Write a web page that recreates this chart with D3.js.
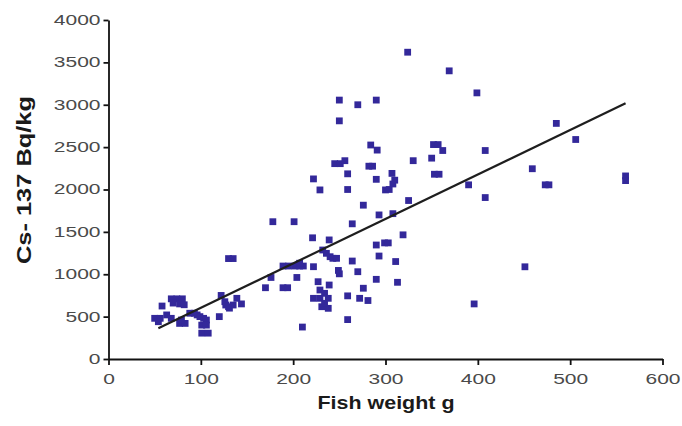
<!DOCTYPE html>
<html lang="en">
<head>
<meta charset="UTF-8">
<title>Cs-137 vs fish weight</title>
<script src="https://d3js.org/d3.v7.min.js"></script>
<style>
    body { margin: 0; background: #fff; }
    .tick text { font-family: "Liberation Sans", Arial, sans-serif; fill: #4a4a4a; }
    .axis-title { font-family: "Liberation Sans", Arial, sans-serif; font-weight: bold; fill: #1a1a1a; }
</style>
</head>
<body>
<script>
// fish weight (g) and Cs-137 (Bq/kg)
const fishWeight = [
    324, 369, 399, 250, 270, 290, 250, 485, 506, 284, 291, 352, 357, 362, 408,
    245, 251, 256, 330, 350, 282, 286, 459, 222, 259, 290, 307, 310, 308, 300,
    304, 353, 358, 560, 560, 229, 259, 390, 473, 477, 408, 325, 276, 178, 201,
    293, 308, 264, 319, 221, 239, 290, 299, 303, 232, 236, 240, 243, 247, 293,
    311, 264, 130, 135, 189, 195, 202, 207, 211, 207, 222, 249, 250, 270, 451,
    176, 204, 290, 313, 227, 239, 170, 189, 194, 276, 229, 234, 222, 229, 238,
    259, 272, 281, 231, 238, 234, 259, 210, 396,
    58, 50, 56, 63, 68, 54, 68, 74, 80, 70, 77, 82, 77, 83, 79,
    88, 93, 96, 99, 103, 106, 101, 106, 101, 108, 120, 122, 127, 131, 135,
    139, 144, 126, 130
];
const cs137 = [
    3620, 3400, 3140, 3055, 3000, 3055, 2810, 2780, 2590, 2525, 2465, 2530, 2530, 2460, 2460,
    2305, 2305, 2340, 2340, 2370, 2275, 2275, 2245, 2125, 2185, 2120, 2190, 2110, 2065, 1995,
    2000, 2180, 2180, 2160, 2105, 1995, 2000, 2055, 2055, 2055, 1905, 1870, 1815, 1620, 1620,
    1700, 1715, 1595, 1465, 1430, 1405, 1345, 1370, 1370, 1286, 1247, 1207, 1188, 1188, 1215,
    1150, 1156, 1185, 1185, 1097, 1097, 1097, 1097, 1097, 1130, 1089, 1045, 1005, 1030, 1088,
    962, 962, 940, 905, 912, 873, 841, 841, 841, 835, 814, 775, 716, 716, 716,
    745, 716, 690, 617, 598, 657, 465, 377, 650,
    625, 480, 480, 520, 480, 440, 710, 710, 710, 660, 650, 640, 420, 420, 460,
    540, 540, 520, 500, 480, 460, 400, 400, 305, 305, 500, 750, 637, 600, 637,
    716, 650, 676, 617
];
// fitted line as drawn in the picture
const trendWeight = [54, 560];
const trendCs = [362, 3017];

const xTicks = [0, 100, 200, 300, 400, 500, 600];
const yTicks = [0, 500, 1000, 1500, 2000, 2500, 3000, 3500, 4000];

const width = 682, height = 426;

const svg = d3.select("body").append("svg")
    .attr("width", width)
    .attr("height", height);

const x = d3.scaleLinear().domain([0, 600]).range([108.5, 662.5]);
const y = d3.scaleLinear().domain([0, 4000]).range([359, 20]);

const points = fishWeight.map((w, i) => ({ w: w, c: cs137[i] }));

// markers
const size = 6.8;
svg.append("g")
    .selectAll("rect")
    .data(points)
    .join("rect")
    .attr("x", d => x(d.w) - size / 2)
    .attr("y", d => y(d.c) - size / 2)
    .attr("width", size)
    .attr("height", size)
    .attr("fill", "#33289a");

// trend line
svg.append("path")
    .datum(trendWeight.map((w, i) => [w, trendCs[i]]))
    .attr("d", d3.line().x(d => x(d[0])).y(d => y(d[1])))
    .attr("stroke", "#1e1e1e")
    .attr("stroke-width", 2.2)
    .attr("fill", "none");

// axes
const fmt = d3.format("d");
const xAxis = svg.append("g")
    .attr("transform", `translate(0,${y(0)})`)
    .call(d3.axisBottom(x).tickValues(xTicks).tickFormat(fmt).tickSize(6).tickSizeOuter(0).tickPadding(9));

const yAxis = svg.append("g")
    .attr("transform", `translate(${x(0)},0)`)
    .call(d3.axisLeft(y).tickValues(yTicks).tickFormat(fmt).tickSize(5).tickSizeOuter(0).tickPadding(6));

[xAxis, yAxis].forEach(a => {
    a.select(".domain").attr("stroke", "#111").attr("stroke-width", 1.8);
    a.selectAll(".tick line").attr("stroke", "#111").attr("stroke-width", 1.8);
    a.selectAll(".tick text").attr("font-size", 14);
});

// tick labels in the picture are wide, stretch them
const sx = 1.5;
xAxis.selectAll(".tick text")
    .attr("transform", `scale(${sx},1)`);
yAxis.selectAll(".tick text")
    .attr("transform", `scale(${sx},1)`)
    .attr("x", -8 / sx);

// axis titles
svg.append("text")
    .attr("class", "axis-title")
    .attr("x", 386)
    .attr("y", 409)
    .attr("text-anchor", "middle")
    .attr("font-size", 19)
    .attr("textLength", 137)
    .attr("lengthAdjust", "spacingAndGlyphs")
    .text("Fish weight g");

svg.append("text")
    .attr("class", "axis-title")
    .attr("transform", "translate(31,180) rotate(-90)")
    .attr("text-anchor", "middle")
    .attr("font-size", 20)
    .attr("textLength", 168)
    .attr("lengthAdjust", "spacingAndGlyphs")
    .text("Cs- 137 Bq/kg");
</script>
</body>
</html>
